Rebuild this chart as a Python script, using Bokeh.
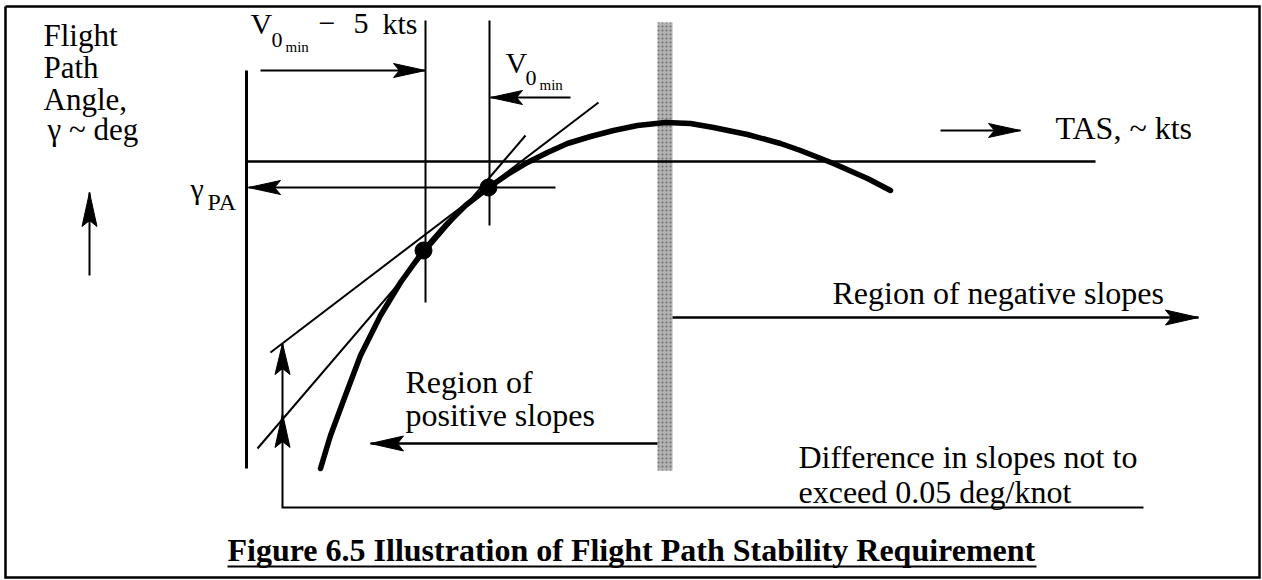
from bokeh.plotting import figure
from bokeh.models import Range1d
from bokeh.core.properties import value
from bokeh.embed import file_html
from bokeh.resources import INLINE

# ---------------- data (diagram units: TAS to the right, flight-path angle drawn downward) ----------------
curve_tas = [320, 330, 343, 360, 380, 400, 423, 445, 465, 488, 507, 527, 547, 567,
             590, 613, 637, 665, 690, 713, 747, 780, 800, 833, 867, 890]
curve_gamma = [468, 435, 400, 355, 315, 282, 250, 225, 205, 187, 174, 162, 152, 143,
               136, 130, 125, 122, 123, 127, 134, 143, 150, 163, 178, 190]

point_tas = [423, 488]          # V0min - 5 kts, V0min
point_gamma = [250, 187]

tangent_tas = [[257, 525], [270, 598]]
tangent_gamma = [[448, 135], [352, 102]]

v0min_minus5 = 425
v0min = 489
gamma_pa = 187
gamma_ref = 161
peak_band = [657, 672]

frame_x = [5, 1259, 1259, 5, 5]
frame_y = [6, 6, 577, 577, 6]

labels_left = ["Flight", "Path", "Angle,", "\u03b3 ~ deg"]
label_neg = "Region of negative slopes"
label_pos = ["Region of", "positive slopes"]
label_diff = ["Difference in slopes not to", "exceed 0.05 deg/knot"]
label_tas = "TAS,  ~  kts"
title_text = "Figure 6.5 Illustration of Flight Path Stability Requirement"

FONT = value("Liberation Serif")
BASE_FIX = -10   # renderer places 'alphabetic' text slightly low

p = figure(width=1262, height=580, x_range=Range1d(0, 1262), y_range=Range1d(580, 0),
           output_backend="svg", toolbar_location=None, min_border=0,
           x_axis_location=None, y_axis_location=None)
p.grid.visible = False
p.outline_line_color = None
p.background_fill_color = "white"
p.border_fill_color = "white"


def txt(x, y, s, size=31, style="normal", align="left"):
    p.text(x=[x], y=[y + BASE_FIX * size / 31], text=[s], text_font=FONT,
           text_font_size=f"{size}px", text_font_style=style,
           text_baseline="alphabetic", text_align=align, text_color="black")


def seg(xs, ys, w=2):
    p.line(x=xs, y=ys, line_color="black", line_width=w, line_cap="butt", line_join="miter")


def head(tx, ty, ux, uy, length=32, width=14, notch=6):
    bx, by = tx - ux * length, ty - uy * length
    nx, ny = -uy, ux
    xs = [tx, bx + nx * width / 2, tx - ux * (length - notch), bx - nx * width / 2]
    ys = [ty, by + ny * width / 2, ty - uy * (length - notch), by - ny * width / 2]
    p.patch(x=xs, y=ys, fill_color="black", line_color="black", line_width=1)


def arrow(x0, y0, x1, y1, w=2, length=32, width=14):
    seg([x0, x1], [y0, y1], w)
    dx, dy = x1 - x0, y1 - y0
    d = (dx * dx + dy * dy) ** 0.5
    head(x1, y1, dx / d, dy / d, length, width)


# outer frame
p.line(x=frame_x, y=frame_y, line_color="black", line_width=2.5, line_join="miter")

# grey band at the curve's peak
p.quad(left=[peak_band[0]], right=[peak_band[1]], top=[22], bottom=[470],
       fill_color="#b2b2b2", line_color=None,
       hatch_pattern="dot", hatch_color="#6e6e6e", hatch_scale=4, hatch_weight=1)

# reference lines
seg([246, 246], [70, 468], 3)
seg([246, 1095], [gamma_ref, gamma_ref], 2.5)
seg([v0min_minus5, v0min_minus5], [20, 302], 2)
seg([v0min, v0min], [20, 225], 2)

# tangents
for tx, ty in zip(tangent_tas, tangent_gamma):
    seg(tx, ty, 2)

# curve and points
p.line(x=curve_tas, y=curve_gamma, line_color="black", line_width=5.5,
       line_join="round", line_cap="round")
p.scatter(x=point_tas, y=point_gamma, size=17, fill_color="black", line_color="black")

# arrows
arrow(89, 275, 89, 192, 2, 34, 15)
arrow(260, 70, v0min_minus5, 70)
arrow(570, 97, v0min + 1, 97)
arrow(555, gamma_pa, 248, gamma_pa)
arrow(940, 130, 1020, 130)
arrow(peak_band[1], 317, 1198, 317, 2.5, 33, 15)
arrow(peak_band[0], 443, 370, 443, 2.5, 33, 15)

# difference connector
seg([1143, 282, 282], [507, 507, 343], 2)
head(282, 343, 0, -1, 31, 15)
head(282, 413, 0, -1, 34, 15)

# texts
for i, s in enumerate(labels_left):
    txt(43 if i < 3 else 47, [45, 77, 109, 139][i], s, 31)

txt(250, 33, "V", 30)
txt(271, 47, "0", 22)
txt(285, 51, "min", 15)
txt(318, 33, "\u2212", 30)
txt(353, 33, "5", 30)
txt(382, 33, "kts", 30)

txt(505, 72, "V", 30)
txt(525, 85, "0", 22)
txt(539, 89, "min", 15)

txt(190, 198, "\u03b3", 30)
txt(207, 209, "PA", 24)

txt(1055, 138, label_tas, 32)
txt(832, 303, label_neg, 32)
txt(405, 392, label_pos[0], 32)
txt(405, 425, label_pos[1], 32)
txt(798, 467, label_diff[0], 32)
txt(798, 502, label_diff[1], 32)

txt(227, 560, title_text, 32, "bold")
seg([227, 1036], [566, 566], 2)

open("out.html", "w").write(file_html(p, INLINE))
